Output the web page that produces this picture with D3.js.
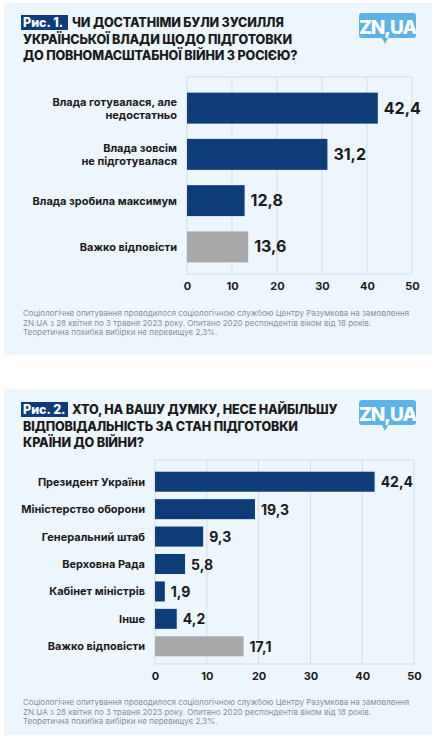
<!DOCTYPE html><html><head><meta charset="utf-8"><script src="https://cdn.jsdelivr.net/npm/d3@7"></script>
<style>body{margin:0;background:#fff}text{font-family:Inter,"Open Sans",sans-serif}</style></head><body><svg id="c" width="439" height="744"></svg>
<script>
const cats1=["Влада готувалася, але|недостатньо","Влада зовсім|не підготувалася","Влада зробила максимум","Важко відповісти"];
const vals1=[42.4,31.2,12.8,13.6];
const cats2=["Президент України","Міністерство оборони","Генеральний штаб","Верховна Рада","Кабінет міністрів","Інше","Важко відповісти"];
const vals2=[42.4,19.3,9.3,5.8,1.9,4.2,17.1];
const ticks=[0,10,20,30,40,50];
const title1=["ЧИ ДОСТАТНІМИ БУЛИ ЗУСИЛЛЯ","УКРАЇНСЬКОЇ ВЛАДИ ЩОДО ПІДГОТОВКИ","ДО ПОВНОМАСШТАБНОЇ ВІЙНИ З РОСІЄЮ?"];
const title2=["ХТО, НА ВАШУ ДУМКУ, НЕСЕ НАЙБІЛЬШУ","ВІДПОВІДАЛЬНІСТЬ ЗА СТАН ПІДГОТОВКИ","КРАЇНИ ДО ВІЙНИ?"];
const foot=["Соціологічне опитування проводилося соціологічною  службою Центру Разумкова на замовлення","ZN.UA з 28 квітня по 3 травня 2023 року. Опитано 2020 респондентів віком від 18 років.","Теоретична похибка вибірки не перевищує 2,3%."];
const svg=d3.select("#c");
function panel(o){
 const g=svg.append("g");
 g.append("rect").attr("x",4).attr("y",o.top).attr("width",428).attr("height",o.h).attr("fill","#eef6fd");
 g.append("rect").attr("x",21).attr("y",o.ty-12).attr("width",47).attr("height",15).attr("fill","#0d3d78");
 g.append("text").attr("x",23).attr("y",o.ty).attr("fill","#fff").attr("font-size",12.5).attr("font-weight",800).text(o.fig);
 o.title.forEach((t,i)=>g.append("text").attr("x",i?23:72).attr("y",o.ty+i*16.5).attr("fill","#1a1a1a").attr("font-size",12.6).attr("font-weight",800).attr("letter-spacing",-0.15).text(t));
 g.append("rect").attr("x",359).attr("y",o.ty-14).attr("width",57).attr("height",25).attr("rx",3).attr("fill","#5bb3e6");
 g.append("path").attr("d",`M382,${o.ty+11} l3,6 l3,-6 z`).attr("fill","#5bb3e6");
 g.append("text").attr("x",387.5).attr("y",o.ty+7).attr("text-anchor","middle").attr("fill","#fff").attr("font-size",19).attr("font-weight",800).attr("letter-spacing",-1).text("ZN,UA");
 const x=d3.scaleLinear().domain([0,50]).range([o.x0,o.x1]);
 const y=d3.scaleBand().domain(o.cats).range([o.gt,o.gb]).paddingInner(o.pad).paddingOuter(o.pad/2);
 ticks.forEach(t=>g.append("line").attr("x1",x(t)).attr("x2",x(t)).attr("y1",o.gt-8).attr("y2",o.gb+4).attr("stroke","#d3dde8").attr("stroke-width",1));
 g.append("line").attr("x1",x(0)).attr("x2",x(50)).attr("y1",o.gt-8).attr("y2",o.gt-8).attr("stroke","#d3dde8");
 g.append("line").attr("x1",x(0)).attr("x2",x(50)).attr("y1",o.gb+4).attr("y2",o.gb+4).attr("stroke","#d3dde8");
 const ax=d3.axisBottom(x).tickValues(ticks).tickSize(0).tickPadding(8);
 const a=g.append("g").attr("transform",`translate(0,${o.gb+4})`).call(ax);
 a.select(".domain").remove();
 a.selectAll("text").attr("font-size",11).attr("font-weight",700).attr("fill","#1a1a1a").style("font-family","Inter");
 o.cats.forEach((c,i)=>{
  const v=o.vals[i],last=i===o.cats.length-1;
  g.append("rect").attr("x",x(0)).attr("y",y(c)).attr("width",x(v)-x(0)).attr("height",y.bandwidth()).attr("fill",last?"#a9a9a9":"#0d3d78");
  g.append("text").attr("x",x(v)+6).attr("y",y(c)+y.bandwidth()/2+5.5).attr("font-size",o.vf).attr("font-weight",700).attr("fill","#1a1a1a").text(String(v).replace(".",","));
  const ls=c.split("|");
  ls.forEach((l,j)=>g.append("text").attr("x",x(0)-10).attr("y",y(c)+y.bandwidth()/2+4+(j-(ls.length-1)/2)*13).attr("text-anchor","end").attr("font-size",11).attr("font-weight",700).attr("fill","#1a1a1a").text(l));
 });
 foot.forEach((f,i)=>g.append("text").attr("x",23).attr("y",o.fy+i*9.6).attr("font-size",8).attr("fill","#8a8f96").text(f));
}
panel({top:3,h:352,fig:"Рис. 1.",title:title1,ty:27,x0:187,x1:412,gt:85,gb:270,pad:0.33,cats:cats1,vals:vals1,vf:16,fy:316});
panel({top:389,h:346,fig:"Рис. 2.",title:title2,ty:414,x0:155,x1:414,gt:468,gb:660,pad:0.27,cats:cats2,vals:vals2,vf:14,fy:705});
</script></body></html>
